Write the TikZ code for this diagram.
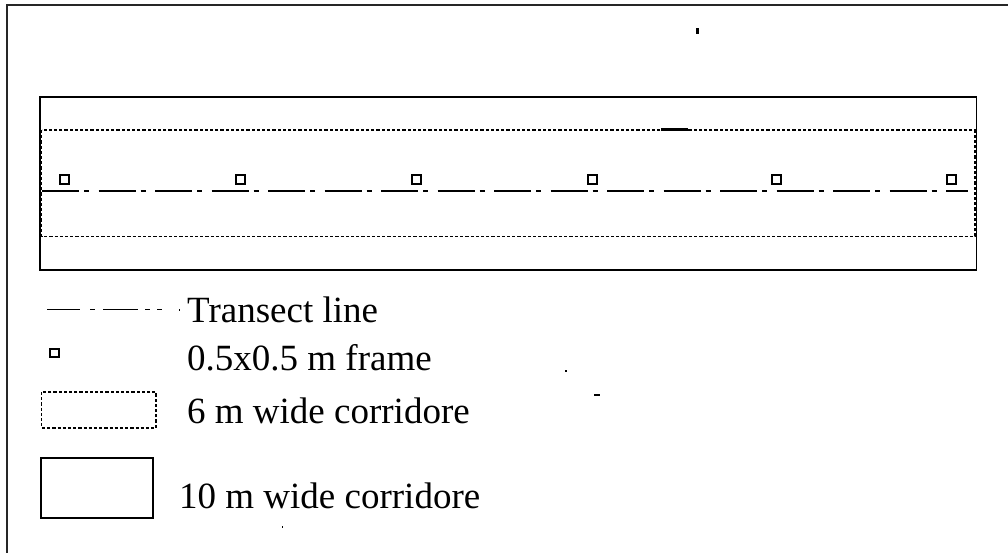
\documentclass[tikz,border=0pt]{standalone}
\usepackage{fontspec}
\setmainfont{Liberation Serif}
\begin{document}
\begin{tikzpicture}[x=1pt,y=-1pt,
  solidline/.style={draw=black,line width=1.7pt},
  dottedline/.style={draw=black,line width=1.8pt,dash pattern=on 3.2pt off 2pt},
  transect/.style={draw=black,line width=1.6pt,dash pattern=on 37pt off 5pt on 5pt off 9.5pt},
  framebox/.style={draw=black,line width=2pt},
  label/.style={anchor=base west,inner sep=0pt,font=\fontsize{37}{44}\selectfont},
  speck/.style={fill=black}]
\useasboundingbox (0,0) rectangle (1008,553);
% outer border (top and left only)
\draw[line width=2pt,draw=black!85] (7,553) -- (7,5.5) -- (1008,5.5);
% 10 m corridor
\draw[solidline] (40,97) rectangle (976.5,270);
% 6 m corridor
\draw[dottedline] (41.5,130) rectangle (975,236.5);
% transect line
\draw[transect] (42,191) -- (968,191);
% frames
\foreach \x in {64,240,416,592,776,951}
  \draw[framebox] (\x-4.5,175) rectangle (\x+4.5,184);
% stray marks
\fill[speck] (696,28.5) rectangle (698.5,34);
\draw[line width=2.4pt] (661,129.5) -- (688,129.5);
\fill[speck] (564.5,370) rectangle (566.5,372);
\fill[speck] (594,394.2) rectangle (600,395.8);
\fill[speck] (281.5,526) rectangle (283,528);
% legend: transect line
\draw[line width=1.6pt] (47,309.5) -- (80,309.5);
\draw[line width=1.6pt] (90,309.5) -- (95,309.5);
\draw[line width=1.6pt] (103,309.5) -- (138,309.5);
\draw[line width=1.6pt] (145,309.5) -- (150,309.5);
\draw[line width=1.6pt] (157,309.5) -- (162,309.5);
\fill[speck] (178.5,309) rectangle (180,310.5);
\node[label] (lt) at (187,322) {Transect line};
% legend: frame
\draw[framebox] (50,349) rectangle (59,357);
\node[label] (lf) at (187,370) {0.5x0.5 m frame};
% legend: 6 m corridor
\draw[dottedline] (41.5,392) rectangle (156,428);
\node[label] (l6) at (187,423) {6 m wide corridore};
% legend: 10 m corridor
\draw[solidline] (41,458) rectangle (153,518);
\node[label] (l10) at (179,508) {10 m wide corridore};
\end{tikzpicture}
\end{document}
